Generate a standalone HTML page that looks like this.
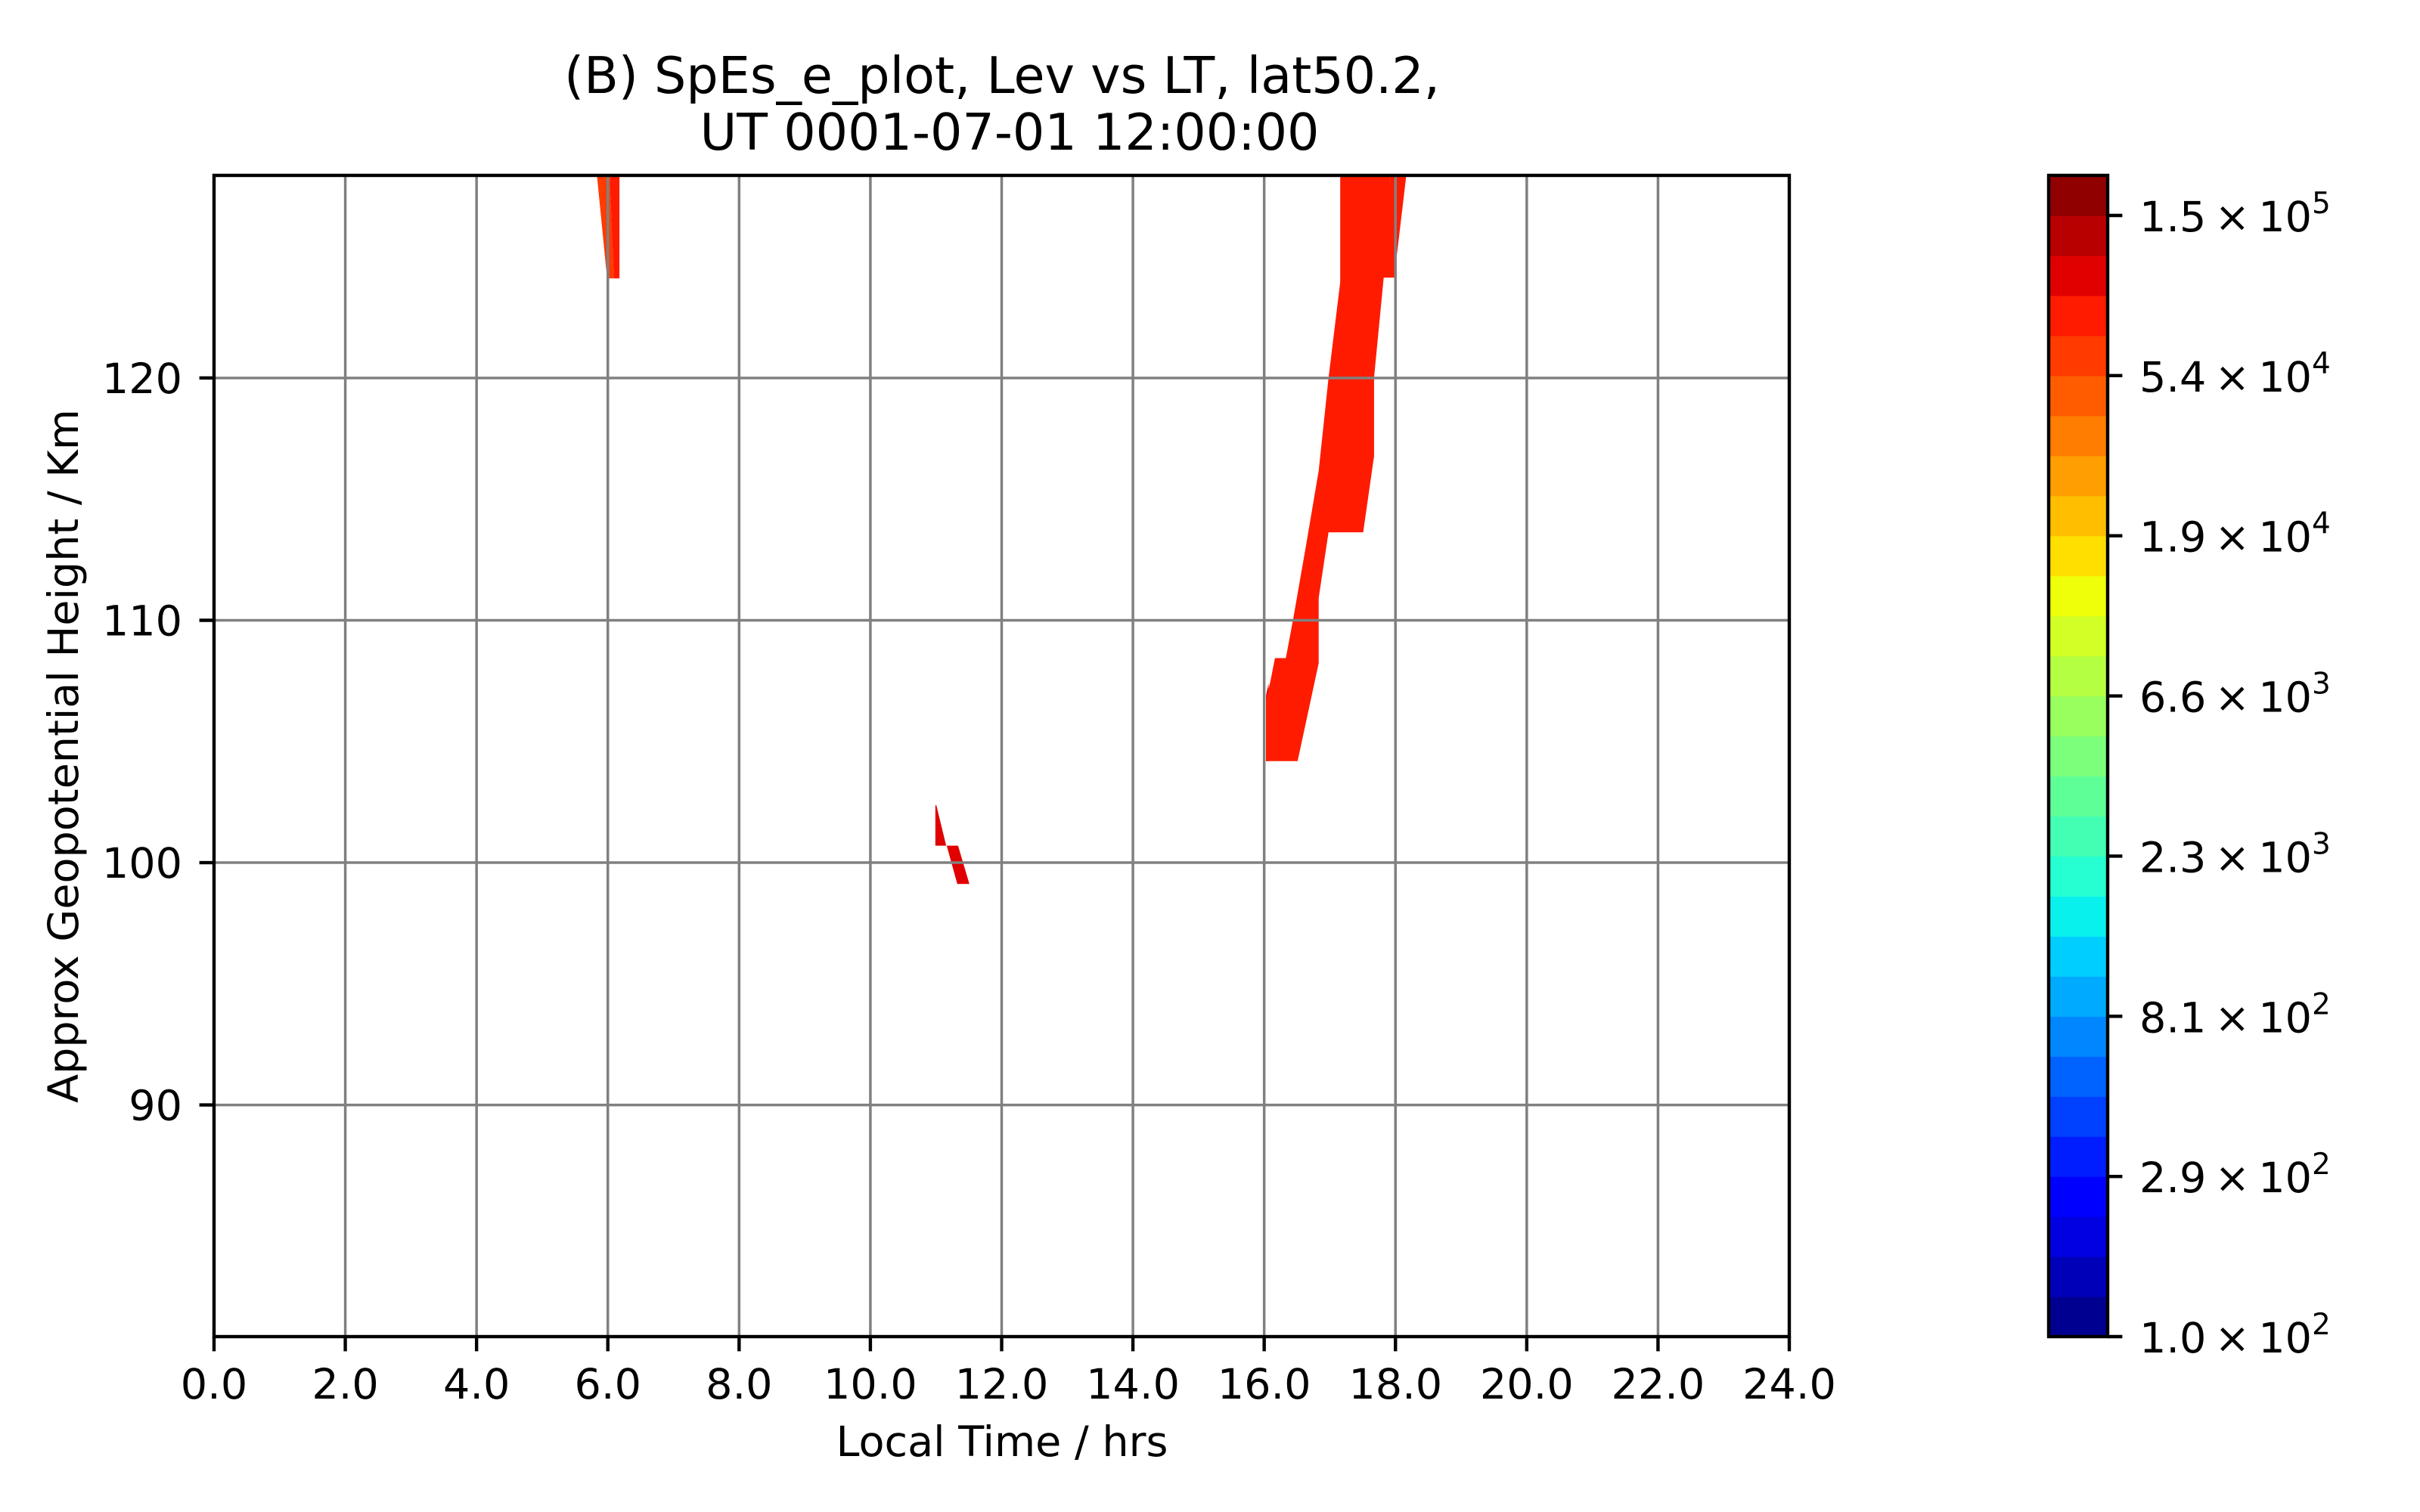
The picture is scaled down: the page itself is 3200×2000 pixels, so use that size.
<!DOCTYPE html>
<html><head><meta charset="utf-8"><style>
html,body{margin:0;padding:0;background:#fff;}
svg{display:block;font-family:"DejaVu Sans","Liberation Sans",sans-serif;}
</style></head><body>
<svg id="chart" width="3200" height="2000" viewBox="0 0 3200 2000" xmlns="http://www.w3.org/2000/svg">
<rect width="3200" height="2000" fill="#fff"/>
<text x="1325" y="123" font-size="66.7" text-anchor="middle">(B) SpEs_e_plot, Lev vs LT, lat50.2,</text>
<text x="1335" y="198" font-size="66.7" text-anchor="middle">UT 0001-07-01 12:00:00</text>
<g id="plot"></g>
<text x="1325" y="1926" font-size="55.6" text-anchor="middle">Local Time / hrs</text>
<text transform="translate(103,1000) rotate(-90)" font-size="55.6" text-anchor="middle">Approx Geopotential Height / Km</text>
<g id="cbar"></g>
</svg>
<script>
// ---- data ----
const xTicks = [0,2,4,6,8,10,12,14,16,18,20,22,24];
const yTicks = [90,100,110,120];
const xRange = [0,24];
const yRange = [80.44,128.36];
const cbarTickLabels = [["1.0","2"],["2.9","2"],["8.1","2"],["2.3","3"],["6.6","3"],["1.9","4"],["5.4","4"],["1.5","5"]];
const levelMin = 100, levelMax = 1.5e5, nBands = 28;
// regions: value (cm^-3) + polygon vertices in (LT hrs, km)
const regionValues = [6.0e4, 8.0e4, 8.0e4, 6.0e4, 6.0e4, 1.0e5, 1.0e5];
const regionLT = [
 [5.834,6.026,6.092,5.989],
 [6.026,6.177,6.177,6.092],
 [17.922,18.165,17.98,17.80],
 [17.605,17.673,17.673,17.62],
 [16.029,16.067,16.067,16.029],
 [10.99,11.005,11.155,11.336,11.508,11.324,11.163,10.99],
 [16.029,16.067,16.067,16.029]
];
const regionH = [
 [128.36,128.36,124.11,124.11],
 [128.36,128.36,124.11,124.11],
 [128.36,128.36,124.14,124.14],
 [120.0,120.0,116.76,116.76],
 [106.9,107.4,104.19,104.19],
 [102.37,102.37,100.70,100.70,99.12,99.12,100.70,100.70],
 [106.9,107.4,104.19,104.19]
];
const mainLT = [17.158,17.922,17.826,17.673,17.673,17.508,16.98,16.83,16.83,16.509,16.029,16.029,16.098,16.164,16.33,16.44,16.64,16.83,16.98,17.158];
const mainH  = [128.36,128.36,124.29,120.0,116.76,113.63,113.63,110.92,108.23,104.19,104.19,106.69,107.53,108.44,108.44,110.03,113.13,116.17,120.0,123.95];
const mainValue = 8.0e4;

// ---- axes ----
const L=283,R=2366,T=232,B=1768;
const xs = v => L + (v-xRange[0])/(xRange[1]-xRange[0])*(R-L);
const ys = v => B - (v-yRange[0])/(yRange[1]-yRange[0])*(B-T);
const NS="http://www.w3.org/2000/svg";
function mk(tag,attrs,parent){const e=document.createElementNS(NS,tag);for(const k in attrs)e.setAttribute(k,attrs[k]);parent.appendChild(e);return e;}
function jet(x){
  const interp=(pts)=>{for(let i=0;i<pts.length-1;i++){const[a,va]=pts[i],[b,vb]=pts[i+1];if(x>=a&&x<=b)return va+(vb-va)*(x-a)/(b-a);}return pts[pts.length-1][1];};
  const r=interp([[0,0],[0.35,0],[0.66,1],[0.89,1],[1,0.5]]);
  const g=interp([[0,0],[0.125,0],[0.375,1],[0.64,1],[0.91,0],[1,0]]);
  const b=interp([[0,0.5],[0.11,1],[0.34,1],[0.65,0],[1,0]]);
  return `rgb(${Math.round(r*255)},${Math.round(g*255)},${Math.round(b*255)})`;
}
const bandColor = k => jet(Math.min(1,0.0143 + k*(0.986-0.0143)/nBands));
const logStep = Math.log10(levelMax/levelMin)/nBands;
function valueColor(v){let k=Math.floor(Math.log10(v/levelMin)/logStep);k=Math.max(0,Math.min(nBands,k));return bandColor(k);}

const plot=document.getElementById('plot');
regionLT.forEach((lts,i)=>{
  const pts=lts.map((t,j)=>xs(t)+','+ys(regionH[i][j])).join(' ');
  const p=mk('polygon',{points:pts,fill:valueColor(regionValues[i])},plot);
  
  
});
{
  const pts=mainLT.map((t,j)=>xs(t)+','+ys(mainH[j])).join(' ');
  const p=mk('polygon',{points:pts,fill:valueColor(mainValue)},plot);
  
  
}
xTicks.forEach(v=>{
  const g=mk('line',{x1:xs(v),x2:xs(v),y1:T,y2:B,stroke:'#808080','stroke-width':3.5},plot);
  
  
  const t=mk('line',{x1:xs(v),x2:xs(v),y1:B,y2:B+19.4,stroke:'#000','stroke-width':4.4},plot);
  
  
  const lb=mk('text',{x:xs(v),y:1850,'font-size':55.6,'text-anchor':'middle'},plot);
  lb.textContent=v.toFixed(1);
  
  
});
yTicks.forEach(v=>{
  const g=mk('line',{x1:L,x2:R,y1:ys(v),y2:ys(v),stroke:'#808080','stroke-width':3.5},plot);
  
  
  const t=mk('line',{x1:L-19.4,x2:L,y1:ys(v),y2:ys(v),stroke:'#000','stroke-width':4.4},plot);
  
  
  const lb=mk('text',{x:241,y:ys(v)+20,'font-size':55.6,'text-anchor':'end'},plot);
  lb.textContent=String(v);
  
  
});
const fr=mk('rect',{x:L,y:T,width:R-L,height:B-T,fill:'none',stroke:'#000','stroke-width':4.4},plot);



// ---- colorbar ----
const cb=document.getElementById('cbar');
const CL=2709,CR=2787,CB=1768,CT=232,seg=(CB-285)/nBands;
for(let k=0;k<=nBands;k++){
  const y1=CB-(k+1)*seg, y0=CB-k*seg;
  const top=Math.max(CT,y1);
  const r=mk('rect',{x:CL,y:top,width:CR-CL,height:y0-top+0.6,fill:bandColor(k)},cb);
  
  
}
const cf=mk('rect',{x:CL,y:CT,width:CR-CL,height:CB-CT,fill:'none',stroke:'#000','stroke-width':4.4},cb);


cbarTickLabels.forEach((lab,i)=>{
  const y=CB-i*4*seg;
  const t=mk('line',{x1:CR,x2:CR+19.4,y1:y,y2:y,stroke:'#000','stroke-width':4.4},cb);
  
  
  const tx=mk('text',{x:2829,y:y+21,'font-size':55.6},cb);
  
  
  tx.appendChild(document.createTextNode(lab[0]+'\u2009\u00d7\u200910'));
  const sp=mk('tspan',{'font-size':39,dy:-24},tx);
  sp.textContent=lab[1];
});
</script>
</body></html>
